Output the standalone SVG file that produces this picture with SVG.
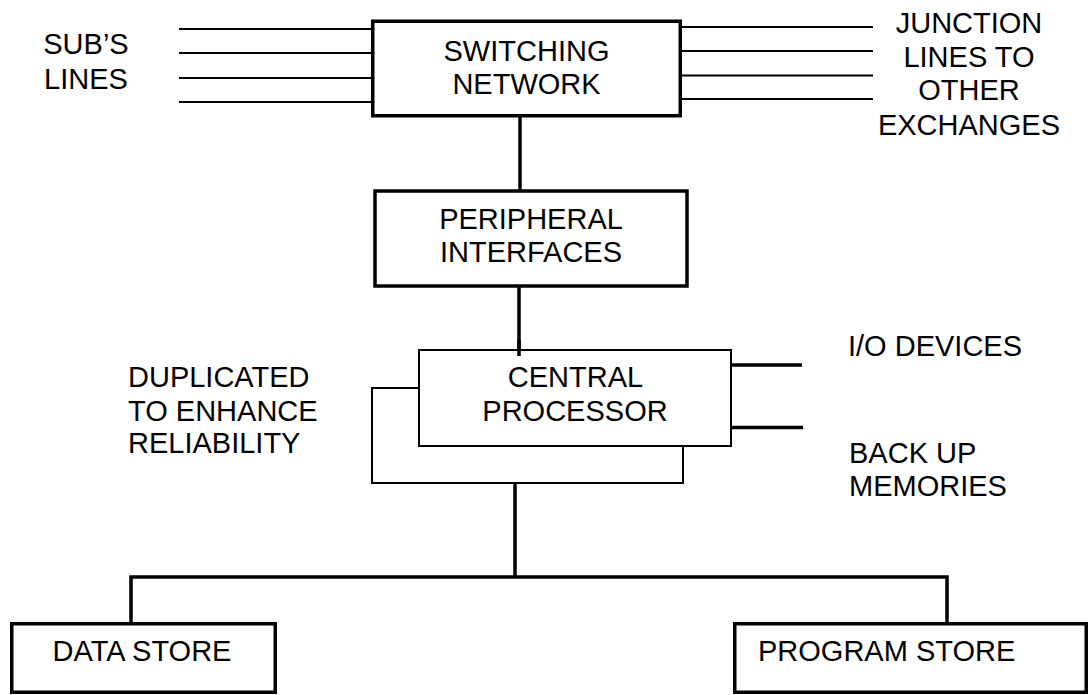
<svg xmlns="http://www.w3.org/2000/svg" width="1090" height="695" viewBox="0 0 1090 695">
<style>
text{font-family:"Liberation Sans",Arial,sans-serif;font-size:29px;fill:#000}
.m{text-anchor:middle}
.thick{fill:#fff;stroke:#000;stroke-width:3.5}
.thin{fill:#fff;stroke:#000;stroke-width:2}
.w{stroke:#000;stroke-width:2;fill:none}
.b{stroke:#000;stroke-width:3.5;fill:none}
</style>
<rect width="1090" height="695" fill="#fff"/>
<g id="connectors">
<path class="w" d="M179 29H372M179 53H372M179 78H372M179 102H372"/>
<path class="w" d="M681 27H873M681 51H873M681 75.5H873M681 99H873"/>
<path class="b" d="M520 117V190M519 287V356"/>
<path class="b" d="M731 365H802M731 427.5H803"/>
<path class="b" d="M515 483V577M129.25 577H948.75M131 577V624M947 577V624"/>
</g>
<g id="switching-network">
<rect class="thick" x="372.75" y="21.25" width="307.5" height="94.5"/>
<text class="m" x="526.5" y="60.5">SWITCHING</text>
<text class="m" x="526.5" y="94">NETWORK</text>
</g>
<g id="subs-lines">
<text class="m" x="86" y="54.3">SUB’S</text>
<text class="m" x="86" y="89">LINES</text>
</g>
<g id="junction-lines">
<text class="m" x="969" y="33.3">JUNCTION</text>
<text class="m" x="969" y="66.7">LINES TO</text>
<text class="m" x="969" y="99.5">OTHER</text>
<text class="m" x="969" y="135">EXCHANGES</text>
</g>
<g id="peripheral-interfaces">
<rect class="thick" x="375" y="191" width="312" height="95"/>
<text class="m" x="531" y="229.3">PERIPHERAL</text>
<text class="m" x="531" y="261.7">INTERFACES</text>
</g>
<g id="central-processor">
<rect class="thin" x="372" y="388" width="311" height="95"/>
<rect class="thin" x="419" y="350" width="312" height="96"/>
<line class="b" x1="519" y1="340" x2="519" y2="356"/>
<text class="m" x="575.5" y="386.7">CENTRAL</text>
<text class="m" x="575" y="420.7">PROCESSOR</text>
</g>
<g id="duplicated-note">
<text x="128" y="387.3">DUPLICATED</text>
<text x="128" y="421">TO ENHANCE</text>
<text x="128" y="453.3">RELIABILITY</text>
</g>
<g id="io-devices">
<text x="848" y="356">I/O DEVICES</text>
</g>
<g id="backup-memories">
<text x="849" y="463.3">BACK UP</text>
<text x="849" y="496">MEMORIES</text>
</g>
<g id="data-store">
<rect class="thick" x="11.75" y="623.75" width="263.5" height="68.5"/>
<text class="m" x="142" y="661">DATA STORE</text>
</g>
<g id="program-store">
<rect class="thick" x="734.75" y="623.75" width="351.5" height="68.5"/>
<text x="758" y="661">PROGRAM STORE</text>
</g>
</svg>
